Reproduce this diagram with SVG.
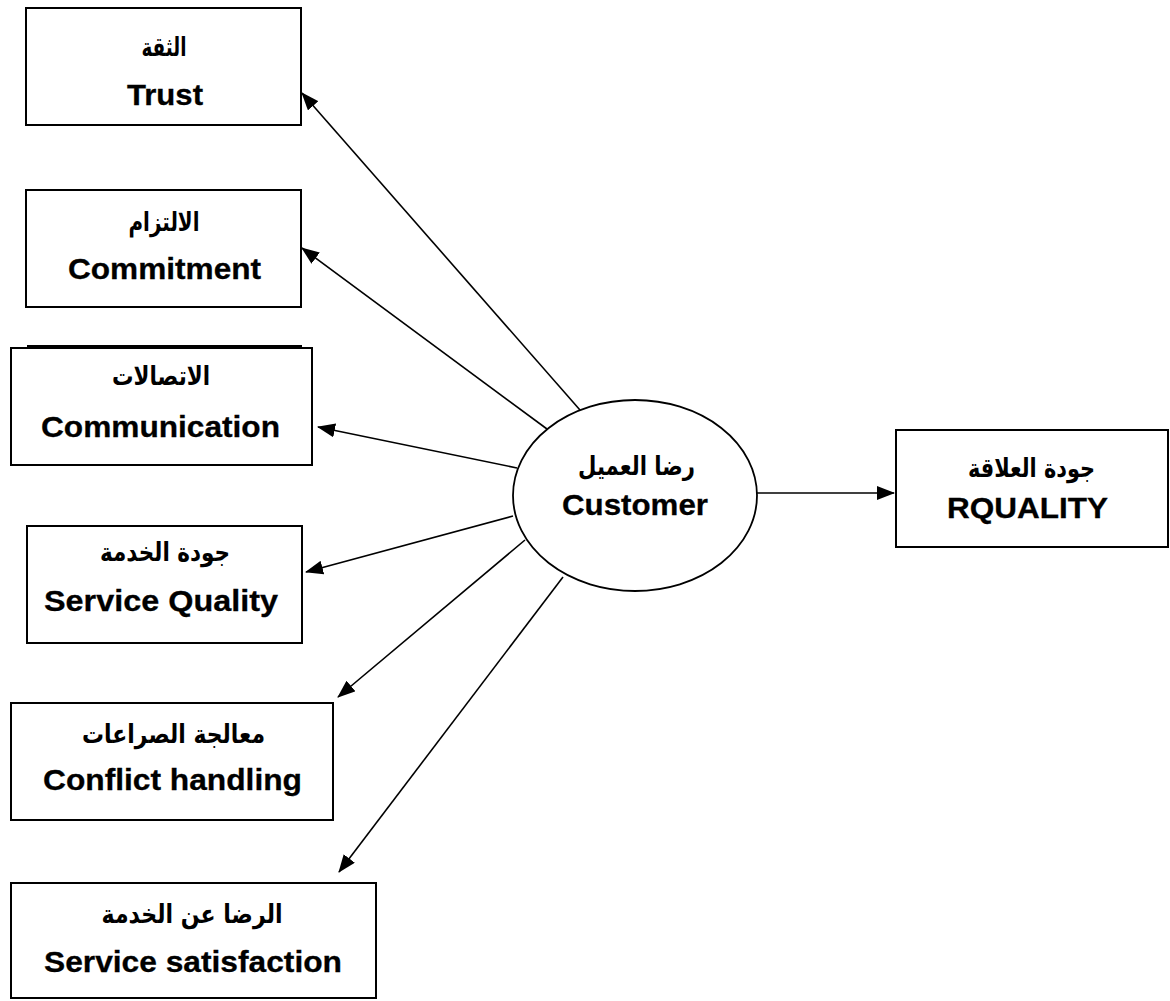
<svg xmlns="http://www.w3.org/2000/svg" width="1170" height="1001" viewBox="0 0 1170 1001">
  <style>
    .box { fill: #fff; stroke: #000; stroke-width: 2; }
    .oval { fill: #fff; stroke: #000; stroke-width: 1.8; }
    .en { font-family: "Liberation Sans", Arial, sans-serif; font-weight: bold; font-size: 30px; fill: #000; stroke: #000; stroke-width: 0.3; text-anchor: middle; }
    .ar { font-family: "DejaVu Sans", "Liberation Sans", sans-serif; font-weight: bold; font-size: 26px; fill: #000; text-anchor: middle; }
    .link { stroke: #000; stroke-width: 1.6; fill: none; marker-end: url(#head); }
  </style>
  <defs>
    <marker id="head" viewBox="0 0 18 14" refX="17" refY="7" markerWidth="18" markerHeight="14" markerUnits="userSpaceOnUse" orient="auto">
      <path d="M0,0 L18,7 L0,14 Z" fill="#000"/>
    </marker>
  </defs>

  <rect width="1170" height="1001" fill="#fff"/>

  <!-- connectors -->
  <g id="connectors">
    <line class="link" x1="580" y1="410" x2="302" y2="93"/>
    <line class="link" x1="547" y1="429" x2="302" y2="248"/>
    <line class="link" x1="517" y1="468" x2="318" y2="427"/>
    <line class="link" x1="513" y1="516" x2="306" y2="572"/>
    <line class="link" x1="525" y1="540" x2="338" y2="697"/>
    <line class="link" x1="563" y1="577" x2="339" y2="872"/>
    <line class="link" x1="757" y1="493" x2="894" y2="493"/>
  </g>

  <g id="trust">
    <rect class="box" x="26" y="8" width="275" height="117"/>
    <text class="ar" x="164" y="56" textLength="45" lengthAdjust="spacingAndGlyphs">الثقة</text>
    <text class="en" x="165" y="105" textLength="76" lengthAdjust="spacingAndGlyphs">Trust</text>
  </g>

  <g id="commitment">
    <rect class="box" x="26" y="190" width="275" height="117"/>
    <text class="ar" x="164" y="231" textLength="71" lengthAdjust="spacingAndGlyphs">الالتزام</text>
    <text class="en" x="164.5" y="279" textLength="193" lengthAdjust="spacingAndGlyphs">Commitment</text>
  </g>

  <g id="communication">
    <line x1="27" y1="346" x2="302" y2="346" stroke="#000" stroke-width="2"/>
    <rect class="box" x="11" y="348" width="301" height="117"/>
    <text class="ar" x="161" y="385" textLength="98" lengthAdjust="spacingAndGlyphs">الاتصالات</text>
    <text class="en" x="160.5" y="437" textLength="239" lengthAdjust="spacingAndGlyphs">Communication</text>
  </g>

  <g id="service-quality">
    <rect class="box" x="27" y="526" width="275" height="117"/>
    <text class="ar" x="165" y="561" textLength="130" lengthAdjust="spacingAndGlyphs">جودة الخدمة</text>
    <text class="en" x="161" y="611" textLength="234" lengthAdjust="spacingAndGlyphs">Service Quality</text>
  </g>

  <g id="conflict-handling">
    <rect class="box" x="11" y="703" width="322" height="117"/>
    <text class="ar" x="173.5" y="743" textLength="183" lengthAdjust="spacingAndGlyphs">معالجة الصراعات</text>
    <text class="en" x="172.5" y="790" textLength="259" lengthAdjust="spacingAndGlyphs">Conflict handling</text>
  </g>

  <g id="service-satisfaction">
    <rect class="box" x="11" y="883" width="365" height="115"/>
    <text class="ar" x="192" y="923" textLength="181" lengthAdjust="spacingAndGlyphs">الرضا عن الخدمة</text>
    <text class="en" x="193" y="972" textLength="298" lengthAdjust="spacingAndGlyphs">Service satisfaction</text>
  </g>

  <g id="customer">
    <ellipse class="oval" cx="635" cy="495.5" rx="122" ry="95.5"/>
    <text class="ar" x="636.5" y="475" textLength="117" lengthAdjust="spacingAndGlyphs">رضا العميل</text>
    <text class="en" x="635" y="515" textLength="146" lengthAdjust="spacingAndGlyphs">Customer</text>
  </g>

  <g id="rquality">
    <rect class="box" x="896" y="430" width="272" height="117"/>
    <text class="ar" x="1031.5" y="477" textLength="127" lengthAdjust="spacingAndGlyphs">جودة العلاقة</text>
    <text class="en" x="1027.5" y="518" textLength="161" lengthAdjust="spacingAndGlyphs">RQUALITY</text>
  </g>
</svg>
